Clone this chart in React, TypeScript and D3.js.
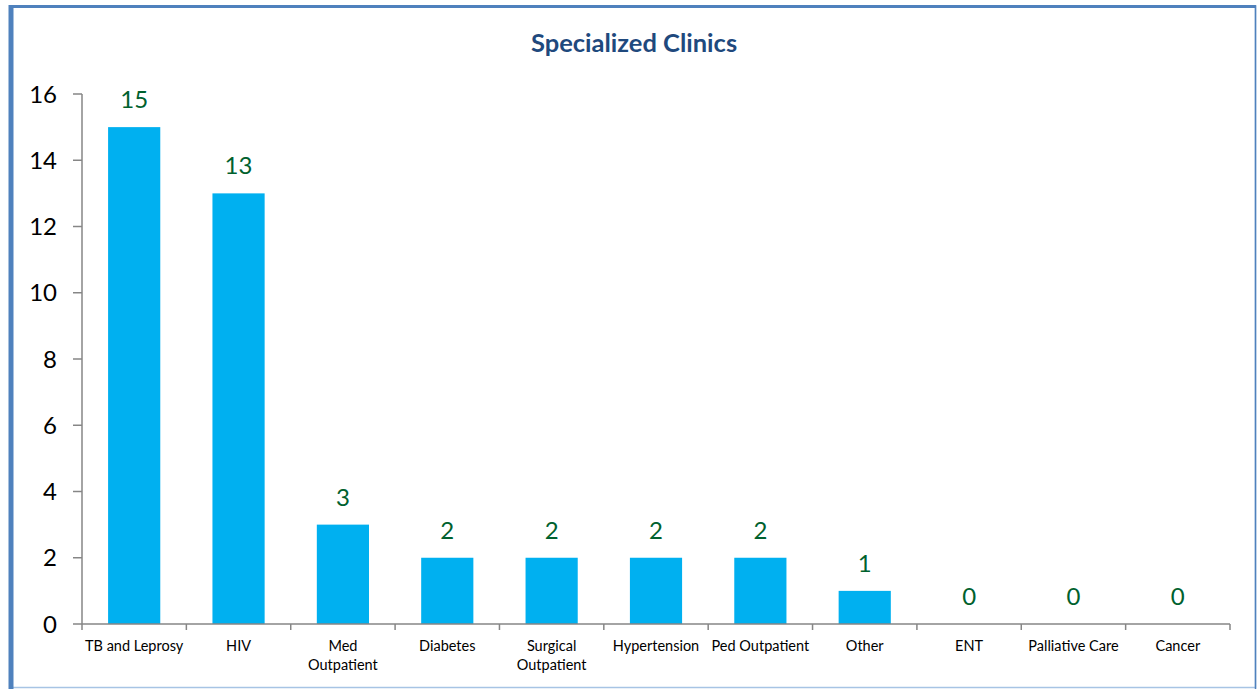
import React from "react";
import * as d3 from "d3";

const categories = ["TB and Leprosy", "HIV", "Med Outpatient", "Diabetes", "Surgical Outpatient", "Hypertension", "Ped Outpatient", "Other", "ENT", "Palliative Care", "Cancer"];
const categoryLines = [["TB and Leprosy"], ["HIV"], ["Med", "Outpatient"], ["Diabetes"], ["Surgical", "Outpatient"], ["Hypertension"], ["Ped Outpatient"], ["Other"], ["ENT"], ["Palliative Care"], ["Cancer"]];
const values = [15, 13, 3, 2, 2, 2, 2, 1, 0, 0, 0];
const yTicks = [0, 2, 4, 6, 8, 10, 12, 14, 16];
const title = "Specialized Clinics";

const W = 1257;
const H = 689;
const FONT = "Lato, 'Open Sans', sans-serif";

export default function App() {
  const left = 82, right = 1230, top = 94, bottom = 624;
  const x = d3.scaleBand<string>().domain(categories).range([left, right]).paddingInner(0.5).paddingOuter(0.25);
  const y = d3.scaleLinear().domain([0, 16]).range([bottom, top]);
  const step = (right - left) / categories.length;
  const axisColor = "#868686";
  return (
    <svg width={W} height={H} style={{ position: "absolute", left: 0, top: 0, display: "block" }}>
      <rect x={0} y={0} width={W} height={H} fill="#fff" />
      {/* frame */}
      <rect x={10.5} y={6.5} width={1245} height={681} fill="none" stroke="#A7C4E4" strokeWidth={1.5} />
      <line x1={11} y1={6.5} x2={1256} y2={6.5} stroke="#4F81BD" strokeWidth={3} />
      <line x1={11} y1={5} x2={11} y2={689} stroke="#4F81BD" strokeWidth={5} />
      <line x1={1255.5} y1={5} x2={1255.5} y2={689} stroke="#4F81BD" strokeWidth={1.5} />
      <text x={634} y={51.5} textAnchor="middle" fontFamily={FONT} fontWeight={700} fontSize={25.5} fill="#1F497D">{title}</text>
      {/* y axis */}
      <line x1={left} y1={top} x2={left} y2={bottom} stroke={axisColor} strokeWidth={1.5} />
      {yTicks.map((t) => (
        <g key={t}>
          <line x1={left - 9} x2={left} y1={y(t)} y2={y(t)} stroke={axisColor} strokeWidth={1.5} />
          <text x={57} y={y(t) + 8.5} textAnchor="end" fontFamily={FONT} fontSize={24} fill="#000">{t}</text>
        </g>
      ))}
      {/* bars */}
      {categories.map((c, i) => (
        values[i] > 0 ? (
          <rect key={c} x={x(c)} y={y(values[i])} width={x.bandwidth()} height={bottom - y(values[i])} fill="#00B0F0" />
        ) : null
      ))}
      {/* data labels */}
      {categories.map((c, i) => (
        <text key={c} x={(x(c) as number) + x.bandwidth() / 2} y={y(values[i]) - 19} textAnchor="middle" fontFamily={FONT} fontSize={24} fill="#00612E">{values[i]}</text>
      ))}
      {/* x axis */}
      <line x1={left} y1={bottom} x2={right} y2={bottom} stroke={axisColor} strokeWidth={1.5} />
      {d3.range(categories.length + 1).map((i) => (
        <line key={i} x1={left + i * step} x2={left + i * step} y1={bottom} y2={bottom + 6} stroke={axisColor} strokeWidth={1.5} />
      ))}
      {categories.map((c, i) => (
        <text key={c} x={(x(c) as number) + x.bandwidth() / 2} y={651} textAnchor="middle" fontFamily={FONT} fontSize={14.5} fill="#000">
          {categoryLines[i].map((ln, k) => (
            <tspan key={k} x={(x(c) as number) + x.bandwidth() / 2} dy={k === 0 ? 0 : 18.5}>{ln}</tspan>
          ))}
        </text>
      ))}
    </svg>
  );
}
